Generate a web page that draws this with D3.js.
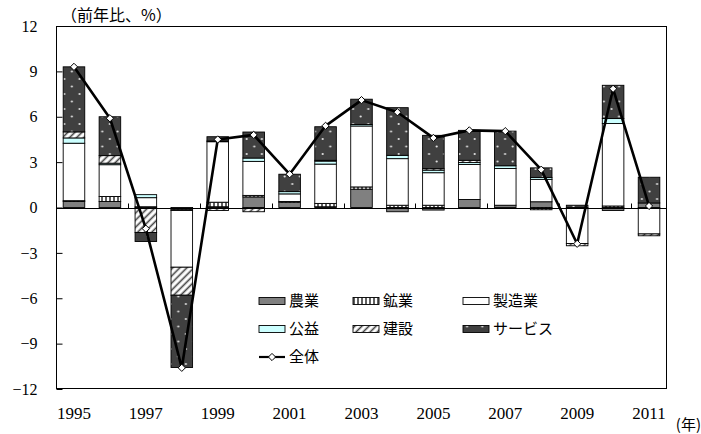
<!DOCTYPE html>
<html>
<head>
<meta charset="utf-8">
<script src="https://cdn.jsdelivr.net/npm/d3@7/dist/d3.min.js"></script>
<style>
  html, body { margin: 0; padding: 0; background: #fff; }
  svg { display: block; }
</style>
</head>
<body>
<svg id="chart" width="701" height="434"></svg>
<script>
// Contribution to growth by sector (percentage points), 1995–2011
const years    = [1995,1996,1997,1998,1999,2000,2001,2002,2003,2004,2005,2006,2007,2008,2009,2010,2011];
const agri     = [0.40, 0.40, 0.00,-0.15, 0.05, 0.70, 0.35, 0.05, 1.21,-0.28,-0.17, 0.53, 0.15, 0.38, 0.00,-0.20, 0.30];
const mining   = [0.05, 0.33, 0.05,-0.05, 0.30, 0.10, 0.05, 0.22, 0.15, 0.15, 0.15, 0.00, 0.00,-0.15, 0.00, 0.10, 0.00];
const manuf    = [3.80, 2.10, 0.60,-3.75, 4.00, 2.25, 0.50, 2.60, 4.03, 3.08, 2.15, 2.31, 2.43, 1.48,-2.38, 5.45,-1.75];
const util     = [0.35, 0.10, 0.20, 0.00, 0.05, 0.22, 0.15, 0.20, 0.10, 0.22, 0.17, 0.13, 0.18, 0.13, 0.00, 0.33, 0.00];
const constr   = [0.40, 0.50,-1.65,-1.85,-0.20,-0.28, 0.00, 0.05, 0.00, 0.00, 0.10, 0.15, 0.00, 0.00,-0.15, 0.00,-0.12];
const services = [4.30, 2.57,-0.60,-4.78, 0.28, 1.72, 1.15, 2.22, 1.67, 3.15, 2.20, 1.98, 2.29, 0.63, 0.15, 2.20, 1.70];
const total    = [9.30, 5.90,-1.40,-10.6, 4.50, 4.80, 2.20, 5.40, 7.10, 6.30, 4.60, 5.10, 5.05, 2.50,-2.40, 7.85, 0.10];

const seriesNames = ["農業", "鉱業", "製造業", "公益", "建設", "サービス"];
const lineName = "全体";
const yTicks = [-12, -9, -6, -3, 0, 3, 6, 9, 12];
const yearLabels = [1995,1997,1999,2001,2003,2005,2007,2009,2011];
const unitLabel = "（前年比、%）";
const yearUnit = "(年)";

const SERIF = "'Liberation Serif', 'Times New Roman', 'DejaVu Serif', serif";
const JP = "'Noto Sans CJK JP', sans-serif";

const svg = d3.select("#chart");
const plot = { left: 56, right: 667, top: 26, bottom: 389 };

// fills: solid colours and SVG patterns
const defs = svg.append("defs");
const pMin = defs.append("pattern").attr("id", "pMining")
  .attr("patternUnits", "userSpaceOnUse").attr("width", 4).attr("height", 4);
pMin.append("rect").attr("width", 4).attr("height", 4).attr("fill", "#fff");
pMin.append("rect").attr("x", 1).attr("width", 2).attr("height", 4).attr("fill", "#606060");

const pCon = defs.append("pattern").attr("id", "pConstr")
  .attr("patternUnits", "userSpaceOnUse").attr("width", 5).attr("height", 5)
  .attr("patternTransform", "rotate(45)");
pCon.append("rect").attr("width", 5).attr("height", 5).attr("fill", "#fff");
pCon.append("line").attr("x1", 1.5).attr("x2", 1.5).attr("y1", 0).attr("y2", 5)
  .attr("stroke", "#404040").attr("stroke-width", 1.6);

const pSrv = defs.append("pattern").attr("id", "pServ")
  .attr("patternUnits", "userSpaceOnUse").attr("width", 15.2).attr("height", 15);
pSrv.append("rect").attr("width", 15.2).attr("height", 15).attr("fill", "#404040");
pSrv.append("circle").attr("cx", 3.5).attr("cy", 4).attr("r", 1.1).attr("fill", "#e0e0e0");
pSrv.append("circle").attr("cx", 11.1).attr("cy", 11.5).attr("r", 1.1).attr("fill", "#e0e0e0");

const fills = ["#808080", "url(#pMining)", "#ffffff", "#ccffff", "url(#pConstr)", "url(#pServ)"];

// scales
const x = d3.scaleBand().domain(years).range([plot.left, plot.right])
  .paddingInner(0.4).paddingOuter(0.2);
const y = d3.scaleLinear().domain([-12, 12]).range([plot.bottom, plot.top]);

// stacked data with positive/negative divergence
const rows = years.map((yr, i) => ({
  year: yr,
  "農業": agri[i], "鉱業": mining[i], "製造業": manuf[i],
  "公益": util[i], "建設": constr[i], "サービス": services[i]
}));
const stacked = d3.stack().keys(seriesNames).offset(d3.stackOffsetDiverging)(rows);

// plot frame
svg.append("rect")
  .attr("x", plot.left + 0.5).attr("y", plot.top + 0.5)
  .attr("width", plot.right - plot.left - 1).attr("height", plot.bottom - plot.top - 1)
  .attr("fill", "none").attr("stroke", "#000").attr("stroke-width", 1);

// bars
stacked.forEach((s, k) => {
  svg.append("g").selectAll("rect").data(s).join("rect")
    .attr("x", d => x(d.data.year))
    .attr("width", x.bandwidth())
    .attr("y", d => y(Math.max(d[0], d[1])))
    .attr("height", d => Math.abs(y(d[0]) - y(d[1])))
    .attr("fill", fills[k])
    .attr("stroke", "#000").attr("stroke-width", 0.9);
});

// zero line and category tick marks
const y0 = Math.round(y(0)) + 0.5;
svg.append("line").attr("x1", plot.left).attr("x2", plot.right)
  .attr("y1", y0).attr("y2", y0).attr("stroke", "#000").attr("stroke-width", 1);
const step = x.step();
d3.range(2, years.length, 2).forEach(i => {
  const tx = Math.round(plot.left + i * step) + 0.5;
  svg.append("line").attr("x1", tx).attr("x2", tx)
    .attr("y1", y0).attr("y2", y0 - 5).attr("stroke", "#000");
});

// y axis ticks (inside) and labels
const yAxis = d3.axisLeft(y).tickValues(yTicks).tickSize(-6);
const yg = svg.append("g").attr("transform", `translate(${plot.left + 0.5},0)`).call(yAxis);
yg.attr("font-family", null).attr("font-size", null);
yg.select(".domain").remove();
yg.selectAll("line").attr("stroke", "#000");
yg.selectAll("text")
  .style("font-family", SERIF).style("font-size", "16px").attr("fill", "#000")
  .attr("x", -19).attr("text-anchor", "end");

// x labels
const xAxis = d3.axisBottom(x).tickValues(yearLabels).tickSize(0).tickPadding(0);
const xg = svg.append("g").attr("transform", `translate(0,${plot.bottom})`).call(xAxis);
xg.attr("font-family", null).attr("font-size", null);
xg.select(".domain").remove();
xg.selectAll("text")
  .style("font-family", SERIF).style("font-size", "17px").attr("fill", "#000")
  .attr("y", 30).attr("dy", 0);

// total line with diamond markers
const cx = d => x(d.year) + x.bandwidth() / 2;
const pts = years.map((yr, i) => ({ year: yr, v: total[i] }));
svg.append("path").datum(pts)
  .attr("d", d3.line().x(cx).y(d => y(d.v)))
  .attr("fill", "none").attr("stroke", "#000").attr("stroke-width", 2.6)
  .attr("stroke-linejoin", "round");
const diamond = "M0,-3.6L3.6,0L0,3.6L-3.6,0Z";
svg.append("g").selectAll("path").data(pts).join("path")
  .attr("d", diamond)
  .attr("transform", d => `translate(${cx(d)},${y(d.v)})`)
  .attr("fill", "#fff").attr("stroke", "#000").attr("stroke-width", 1);

// unit labels
svg.append("text").attr("x", 61).attr("y", 21)
  .style("font-family", JP).style("font-size", "16px").text(unitLabel);
svg.append("text").attr("x", 701).attr("y", 430).attr("text-anchor", "end")
  .style("font-family", JP).style("font-size", "15px").text(yearUnit);

// legend
const legendCols = [259, 353, 463];
const legendRows = [301, 329, 357];
const lg = svg.append("g");
seriesNames.forEach((name, k) => {
  const lx = legendCols[k % 3], ly = legendRows[Math.floor(k / 3)];
  lg.append("rect").attr("x", lx).attr("y", ly - 3.5).attr("width", 26).attr("height", 7)
    .attr("fill", fills[k]).attr("stroke", "#000").attr("stroke-width", 0.9);
  lg.append("text").attr("x", lx + 30).attr("y", ly).attr("dy", "0.36em")
    .style("font-family", JP).style("font-size", "15px").text(name);
});
{
  const lx = legendCols[0], ly = legendRows[2];
  lg.append("line").attr("x1", lx).attr("x2", lx + 26).attr("y1", ly).attr("y2", ly)
    .attr("stroke", "#000").attr("stroke-width", 2.2);
  lg.append("path").attr("d", diamond).attr("transform", `translate(${lx + 13},${ly})`)
    .attr("fill", "#fff").attr("stroke", "#000");
  lg.append("text").attr("x", lx + 30).attr("y", ly).attr("dy", "0.36em")
    .style("font-family", JP).style("font-size", "15px").text(lineName);
}
</script>
</body>
</html>
